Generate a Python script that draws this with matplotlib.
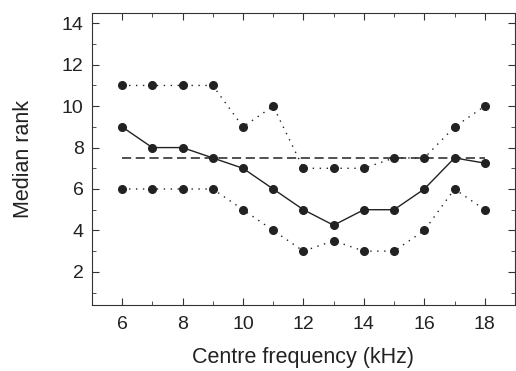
import matplotlib
matplotlib.use("Agg")
import matplotlib.pyplot as plt
from matplotlib.ticker import MultipleLocator

plt.rcParams['font.family'] = ['Liberation Sans', 'DejaVu Sans']

freq = [6, 7, 8, 9, 10, 11, 12, 13, 14, 15, 16, 17, 18]
upper = [11, 11, 11, 11, 9, 10, 7, 7, 7, 7.5, 7.5, 9, 10]
median = [9, 8, 8, 7.5, 7, 6, 5, 4.25, 5, 5, 6, 7.5, 7.25]
lower = [6, 6, 6, 6, 5, 4, 3, 3.5, 3, 3, 4, 6, 5]
chance = 7.5

fig = plt.figure(figsize=(5.16, 3.71), dpi=100)
ax = fig.add_axes([0.178, 0.178, 0.82, 0.787])

ax.plot([freq[0], freq[-1]], [chance, chance], color='#222222', lw=1.1, ls=(0, (6, 3)))
ax.plot(freq, upper, color='#222222', lw=1.0, ls=(0, (1, 4)), marker='o', ms=5.5)
ax.plot(freq, lower, color='#222222', lw=1.0, ls=(0, (1, 4)), marker='o', ms=5.5)
ax.plot(freq, median, color='#222222', lw=1.0, ls='-', marker='o', ms=5.5)

ax.set_xlim(5, 19)
ax.set_ylim(0.4, 14.5)
ax.xaxis.set_major_locator(MultipleLocator(2))
ax.xaxis.set_minor_locator(MultipleLocator(1))
ax.yaxis.set_major_locator(MultipleLocator(2))
ax.yaxis.set_minor_locator(MultipleLocator(1))
ax.tick_params(which='both', direction='in', top=True, right=True, colors='#333333',
               labelcolor='#222222', labelsize=14, pad=6)
ax.tick_params(axis='x', pad=8)
ax.tick_params(which='major', length=5)
ax.tick_params(which='minor', length=3)
for s in ax.spines.values():
    s.set_color('#333333')

ax.set_xlabel("Centre frequency (kHz)", fontsize=15.5, color='#222222', labelpad=10)
ax.set_ylabel("Median rank", fontsize=15.5, color='#222222', labelpad=20)

fig.savefig("out.png", dpi=100)
